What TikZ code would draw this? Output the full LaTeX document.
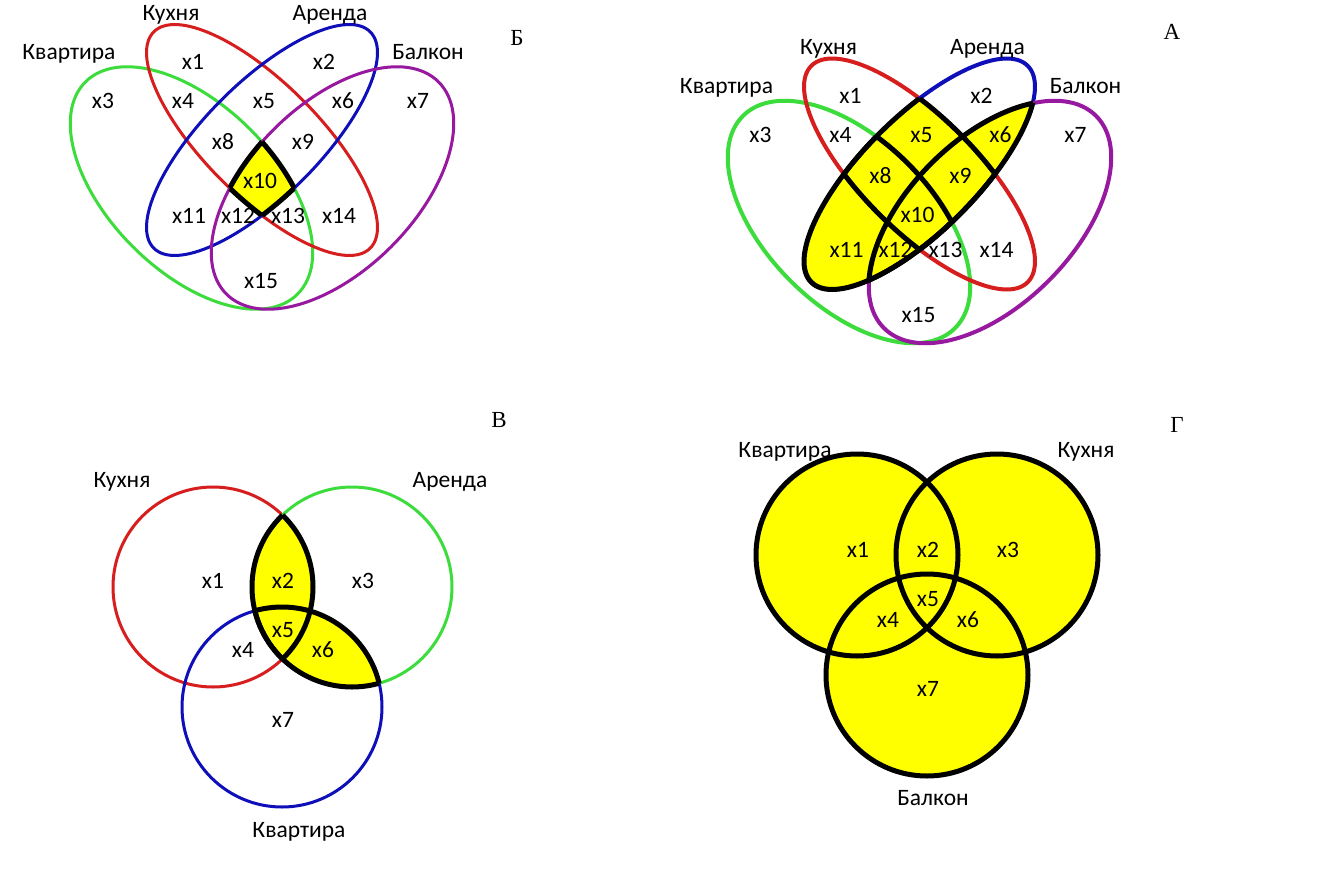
\documentclass[tikz,border=0pt]{standalone}
\usepackage{fontspec}
\setmainfont{Carlito}
\newfontfamily\letterfont{Liberation Serif}
\definecolor{kvgreen}{RGB}{60,220,60}
\definecolor{kured}{RGB}{215,30,30}
\definecolor{arblue}{RGB}{15,15,185}
\definecolor{bapurple}{RGB}{150,25,160}
\definecolor{hlyellow}{RGB}{255,255,0}
% the four sets (ellipses)
\newcommand{\ellKv}{(191.5,188) ellipse [x radius=150, y radius=83, rotate=-45]}
\newcommand{\ellKu}{(262,140) ellipse [x radius=153, y radius=57, rotate=-45]}
\newcommand{\ellAr}{(262,140) ellipse [x radius=153, y radius=57, rotate=45]}
\newcommand{\ellBa}{(332.5,188) ellipse [x radius=150, y radius=83, rotate=45]}
% the three sets of B (circles)
\newcommand{\cirKu}{(213,587) circle [radius=100]}
\newcommand{\cirAr}{(352,587) circle [radius=100]}
\newcommand{\cirKv}{(282,707) circle [radius=100]}
% the three sets of G (circles)
\newcommand{\cirGKv}{(857,555) circle [radius=101]}
\newcommand{\cirGKu}{(997,555) circle [radius=101]}
\newcommand{\cirGBa}{(927,675) circle [radius=101]}

\begin{document}
\begin{tikzpicture}[
    x=1pt, y=-1pt,
    lbl/.style={font=\fontsize{23.5}{23.5}\selectfont, inner sep=0pt, text height=0.62em, text depth=0pt, yshift=-4pt},
    letter/.style={font=\letterfont\fontsize{23}{23}\selectfont, inner sep=0pt},
    thinset/.style={line width=3pt},
    boldset/.style={line width=4pt},
    outline/.style={draw=black, line width=5pt},
    hl/.style={fill=hlyellow}
]
    \useasboundingbox[fill=white] (0,0) rectangle (1331,875);

    % --- panel B (top left): only the common part
    \draw[thinset, kvgreen] \ellKv;
    \draw[thinset, kured] \ellKu;
    \draw[thinset, arblue] \ellAr;
    \draw[thinset, bapurple] \ellBa;
    \begin{scope}
        \clip \ellKv; \clip \ellKu; \clip \ellAr;
        \fill[hl] \ellBa;
    \end{scope}
    \begin{scope} \clip \ellKu; \clip \ellAr; \clip \ellBa; \draw[outline] \ellKv; \end{scope}
    \begin{scope} \clip \ellKv; \clip \ellAr; \clip \ellBa; \draw[outline] \ellKu; \end{scope}
    \begin{scope} \clip \ellKv; \clip \ellKu; \clip \ellBa; \draw[outline] \ellAr; \end{scope}
    \begin{scope} \clip \ellKv; \clip \ellKu; \clip \ellAr; \draw[outline] \ellBa; \end{scope}

    \node[lbl] (kvB) at (69,52) {Квартира};
    \node[lbl] (kuB) at (171,13) {Кухня};
    \node[lbl] (arB) at (330,13) {Аренда};
    \node[lbl] (baB) at (428,52) {Балкон};
    \node[letter] (letB) at (517,38) {Б};
    \foreach \i/\px/\py in {1/193/62, 2/324/62, 3/103/101, 4/183/101, 5/264/101,
        6/343/101, 7/418/101, 8/223/142, 9/303/142, 10/260/181, 11/189/216,
        12/238/216, 13/288/216, 14/339/216, 15/261/281}
        \node[lbl] (xB\i) at (\px,\py) {x\i};

    % --- panel A (top right): rent together with any other set
    \begin{scope}[shift={(657.5,34)}]
        \draw[boldset, kvgreen] \ellKv;
        \draw[boldset, kured] \ellKu;
        \draw[boldset, arblue] \ellAr;
        \draw[boldset, bapurple] \ellBa;
        \begin{scope}
            \clip \ellAr;
            \fill[hl] \ellKv; \fill[hl] \ellKu; \fill[hl] \ellBa;
            \draw[outline] \ellKv; \draw[outline] \ellKu; \draw[outline] \ellBa;
        \end{scope}
        \begin{scope} \clip \ellKv; \draw[outline] \ellAr; \end{scope}
        \begin{scope} \clip \ellKu; \draw[outline] \ellAr; \end{scope}
        \begin{scope} \clip \ellBa; \draw[outline] \ellAr; \end{scope}

        \node[lbl] (kvA) at (69,52) {Квартира};
        \node[lbl] (kuA) at (171,13) {Кухня};
        \node[lbl] (arA) at (330,13) {Аренда};
        \node[lbl] (baA) at (428,52) {Балкон};
        \foreach \i/\px/\py in {1/193/62, 2/324/62, 3/103/101, 4/183/101, 5/264/101,
            6/343/101, 7/418/101, 8/223/142, 9/303/142, 10/260/181, 11/189/216,
            12/238/216, 13/288/216, 14/339/216, 15/261/281}
            \node[lbl] (xA\i) at (\px,\py) {x\i};
    \end{scope}
    \node[letter] (letA) at (1172,32) {А};

    % --- panel V (bottom left)
    \draw[thinset, kured] \cirKu;
    \draw[thinset, kvgreen] \cirAr;
    \draw[thinset, arblue] \cirKv;
    \begin{scope}
        \clip \cirAr;
        \fill[hl] \cirKu; \fill[hl] \cirKv;
        \draw[outline] \cirKu; \draw[outline] \cirKv;
    \end{scope}
    \begin{scope} \clip \cirKu; \draw[outline] \cirAr; \end{scope}
    \begin{scope} \clip \cirKv; \draw[outline] \cirAr; \end{scope}

    \node[lbl] (kuV) at (122,480) {Кухня};
    \node[lbl] (arV) at (450,480) {Аренда};
    \node[lbl] (kvV) at (299,830) {Квартира};
    \node[letter] (letV) at (499,420) {В};
    \foreach \i/\px/\py in {1/213/581, 2/283/581, 3/363/581, 4/243/650,
        5/283/630, 6/323/650, 7/283/720}
        \node[lbl] (xV\i) at (\px,\py) {x\i};

    % --- panel G (bottom right): everything
    \fill[hl] \cirGKv; \fill[hl] \cirGKu; \fill[hl] \cirGBa;
    \draw[outline] \cirGKv; \draw[outline] \cirGKu; \draw[outline] \cirGBa;

    \node[lbl] (kvG) at (785,450) {Квартира};
    \node[lbl] (kuG) at (1086,450) {Кухня};
    \node[lbl] (baG) at (933,798) {Балкон};
    \node[letter] (letG) at (1177,425) {Г};
    \foreach \i/\px/\py in {1/858/550, 2/928/550, 3/1008/550, 4/888/620,
        5/928/599, 6/968/620, 7/928/689}
        \node[lbl] (xG\i) at (\px,\py) {x\i};
\end{tikzpicture}
\end{document}
